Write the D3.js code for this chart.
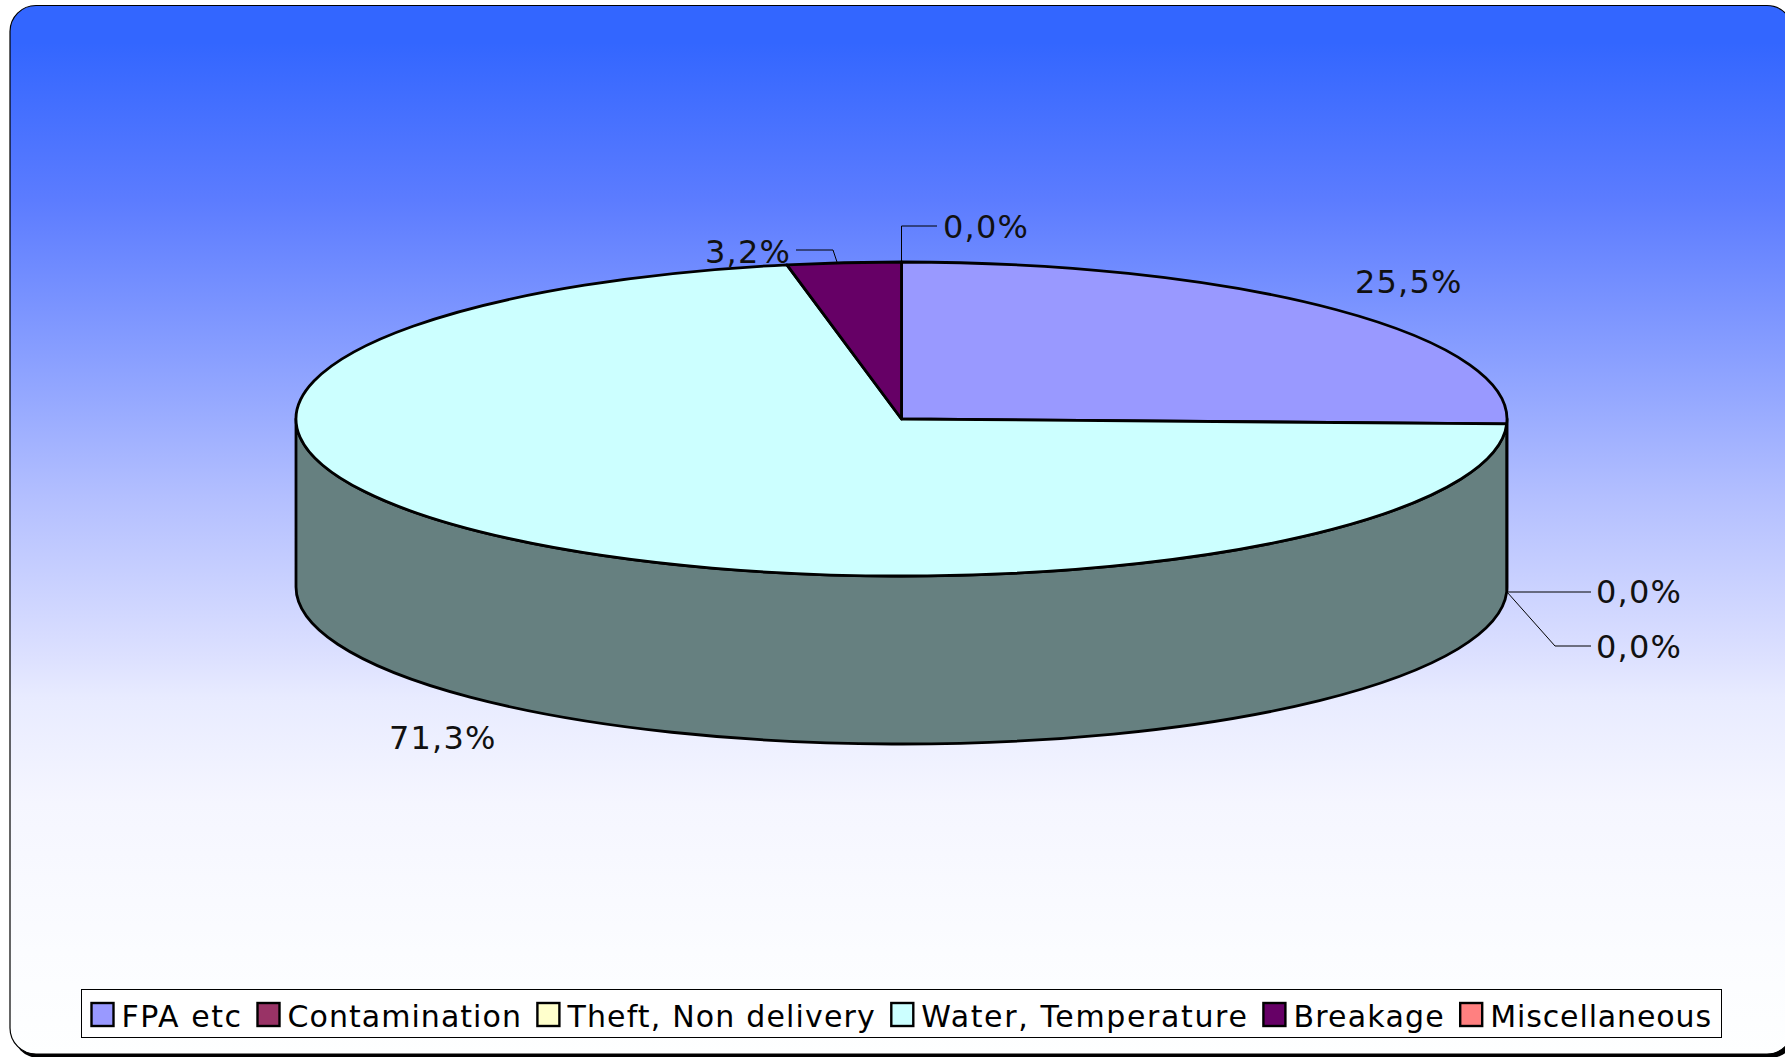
<!DOCTYPE html>
<html lang="en">
<head>
  <meta charset="UTF-8" />
  <title>Pie chart</title>
  <script src="https://d3js.org/d3.v7.min.js"></script>
  <style>
    html, body { margin: 0; padding: 0; background: #fff; overflow: hidden; }
    text { font-family: Verdana, "DejaVu Sans", sans-serif; fill: #000; }
    .label { font-size: 32px; letter-spacing: 1.2px; fill: #111; }
    .legend-text { font-size: 30px; }
    .leader { fill: none; stroke: #000; stroke-width: 1; }
    .rim { stroke: #000; stroke-width: 2.8; stroke-linejoin: round; }
  </style>
</head>
<body>
<svg id="chart" width="1785" height="1057"></svg>
<script>
const categories = ["FPA etc", "Contamination", "Theft, Non delivery", "Water, Temperature", "Breakage", "Miscellaneous"];
// printed labels
const shares = [25.5, 0, 0, 71.3, 3.2, 0];
// wedge sizes as drawn in the picture, the Breakage wedge is a bit narrower than its label
const drawnShares = [25.5, 0, 0, 71.47, 3.03, 0];
const topColors = ["#9999ff", "#993366", "#ffffcc", "#ccffff", "#660066", "#ff8080"];
const wallColors = ["#4d4d80", "#4d1a33", "#808066", "#668080", "#330033", "#804040"];

const svg = d3.select("#chart");
const cx = 901.5, cy = 419, rx = 605.5, ry = 157, depth = 168;

const defs = svg.append("defs");
const grad = defs.append("linearGradient").attr("id", "bg").attr("gradientUnits", "userSpaceOnUse")
  .attr("x1", 0).attr("y1", 0).attr("x2", 0).attr("y2", 1057);
// background ramp
const gradStops = [[0.04, "#3366ff"], [0.19, "#5c7cff"], [0.38, "#96a9ff"], [0.47, "#b3bfff"], [0.62, "#dce0ff"], [0.66, "#e8ebff"], [0.76, "#f5f6ff"], [0.9, "#fbfcff"], [1, "#feffff"]];
gradStops.forEach(s => grad.append("stop").attr("offset", s[0]).attr("stop-color", s[1]));

// panel + hard shadow, it runs off the right side of the page
svg.append("rect").attr("x", 13).attr("y", 9).attr("width", 1783).attr("height", 1049).attr("rx", 26).attr("fill", "#000");
svg.append("rect").attr("x", 10).attr("y", 5.5).attr("width", 1783).attr("height", 1048.5).attr("rx", 26)
  .attr("fill", "url(#bg)").attr("stroke", "#000").attr("stroke-width", 1.2);

const pie = d3.pie().sort(null).value(d => d);
const slices = pie(drawnShares);

// angle measured clockwise from 12 o'clock, as d3.pie does
const px = a => rx * Math.sin(a);
const py = a => -ry * Math.cos(a);

// side wall: only the front half of the ellipse is visible
function wallPath(s) {
  const a0 = Math.max(s.startAngle, Math.PI / 2), a1 = Math.min(s.endAngle, Math.PI * 1.5);
  if (a1 <= a0) return null;
  const large = a1 - a0 > Math.PI ? 1 : 0;
  return `M${px(a0)},${py(a0)}L${px(a0)},${py(a0) + depth}` +
    `A${rx},${ry} 0 ${large} 1 ${px(a1)},${py(a1) + depth}` +
    `L${px(a1)},${py(a1)}A${rx},${ry} 0 ${large} 0 ${px(a0)},${py(a0)}Z`;
}

const pieG = svg.append("g").attr("transform", `translate(${cx},${cy})`);
pieG.selectAll("path.wall")
  .data(slices.filter(s => s.value > 0 && wallPath(s)))
  .join("path")
  .attr("class", "wall rim")
  .attr("d", wallPath)
  .attr("fill", s => wallColors[s.index]);

const arc = d3.arc().innerRadius(0).outerRadius(rx);
pieG.append("g").attr("transform", `scale(1,${ry / rx})`)
  .selectAll("path.top")
  .data(slices.filter(s => s.value > 0))
  .join("path")
  .attr("class", "top rim")
  .attr("vector-effect", "non-scaling-stroke")
  .attr("d", arc)
  .attr("fill", s => topColors[s.index]);

// data labels, placed by hand like the original
const fmt = v => d3.format(".1f")(v).replace(".", ",") + "%";
const labelPos = [[1355, 293], [1596, 603], [1596, 658], [389, 749], [705, 263], [943, 238]];
svg.selectAll("text.label")
  .data(shares)
  .join("text")
  .attr("class", "label")
  .attr("x", (s, i) => labelPos[i][0])
  .attr("y", (s, i) => labelPos[i][1])
  .text(fmt);

// leader lines
const leaders = [
  [[1591, 592], [cx + rx, 592]],
  [[1591, 646], [1555, 646], [cx + rx, 592]],
  [[796, 250], [833, 250], [837, 262]],
  [[937, 226], [cx, 226], [cx, 262]]
];
svg.selectAll("path.leader")
  .data(leaders)
  .join("path")
  .attr("class", "leader")
  .attr("d", d3.line());

// legend
const legendX = 81.5, legendY = 989.5, legendW = 1640, legendH = 48;
const legendTextW = [119.5, 233.4, 307.4, 325.6, 150.3, 220.9];
svg.append("rect").attr("x", legendX).attr("y", legendY).attr("width", legendW).attr("height", legendH)
  .attr("fill", "#fff").attr("stroke", "#000").attr("stroke-width", 1);

let lx = legendX + 10;
categories.forEach((c, i) => {
  svg.append("rect").attr("x", lx).attr("y", 1003).attr("width", 22).attr("height", 23)
    .attr("fill", topColors[i]).attr("stroke", "#000").attr("stroke-width", 2.4);
  svg.append("text").attr("class", "legend-text").attr("x", lx + 30).attr("y", 1027)
    .attr("textLength", legendTextW[i]).attr("lengthAdjust", "spacing").text(c);
  lx += 30 + legendTextW[i] + 16.5;
});
</script>
</body>
</html>
